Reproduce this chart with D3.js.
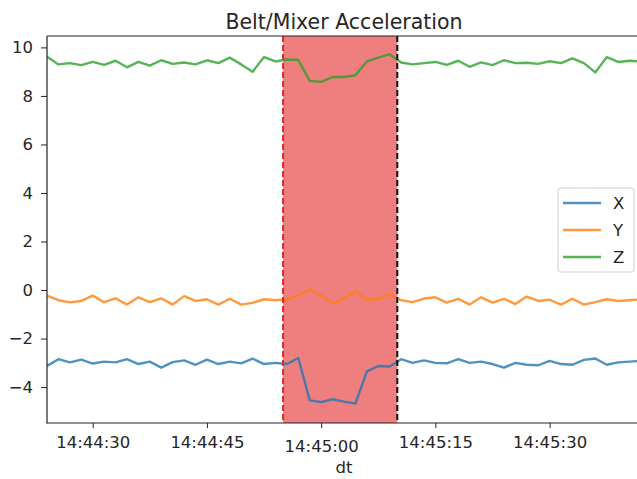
<!DOCTYPE html>
<html>
<head>
<meta charset="utf-8">
<script src="https://cdn.jsdelivr.net/npm/d3@7"></script>
<style>
  body { margin: 0; background: #fff; }
  svg text { font-family: "DejaVu Sans", sans-serif; fill: #262626; }
</style>
</head>
<body>
<div class="canvas"></div>
<script>
// samples every 1.5 s starting 14:44:24
var startTime = new Date(2021, 0, 1, 14, 44, 24);
var stepSeconds = 1.5;

var seriesNames = ["X", "Y", "Z"];
var seriesColors = ["#1f77b4", "#ff7f0e", "#2ca02c"];

var xValues = [-3.13, -2.85, -2.98, -2.87, -3.03, -2.95, -2.98, -2.85, -3.05, -2.95,
  -3.2, -2.97, -2.9, -3.08, -2.87, -3.05, -2.95, -3.02, -2.83, -3.05,
  -3.0, -3.05, -2.8, -4.55, -4.62, -4.5, -4.6, -4.68, -3.35, -3.13,
  -3.15, -2.85, -3.0, -2.9, -3.0, -3.02, -2.85, -3.0, -2.95, -3.05,
  -3.2, -3.0, -3.08, -3.1, -2.92, -3.05, -3.08, -2.88, -2.82, -3.08,
  -2.98, -2.95, -2.92];
var yValues = [-0.23, -0.42, -0.51, -0.45, -0.23, -0.5, -0.34, -0.6, -0.3, -0.5,
  -0.34, -0.6, -0.25, -0.45, -0.38, -0.6, -0.36, -0.6, -0.53, -0.38,
  -0.42, -0.38, -0.23, 0.02, -0.22, -0.55, -0.35, -0.05, -0.4, -0.38,
  -0.18, -0.42, -0.5, -0.35, -0.3, -0.52, -0.36, -0.6, -0.3, -0.52,
  -0.36, -0.58, -0.27, -0.45, -0.4, -0.6, -0.36, -0.6, -0.5, -0.38,
  -0.45, -0.42, -0.38];
var zValues = [9.62, 9.3, 9.35, 9.27, 9.4, 9.28, 9.45, 9.18, 9.4, 9.25,
  9.47, 9.32, 9.38, 9.3, 9.47, 9.35, 9.58, 9.3, 9.0, 9.6,
  9.42, 9.5, 9.48, 8.62, 8.58, 8.78, 8.78, 8.85, 9.42, 9.58,
  9.72, 9.38, 9.3, 9.35, 9.4, 9.28, 9.45, 9.2, 9.38, 9.27,
  9.47, 9.35, 9.37, 9.32, 9.43, 9.35, 9.55, 9.35, 8.97, 9.6,
  9.4, 9.45, 9.42];

var yTicks = [-4, -2, 0, 2, 4, 6, 8, 10];
var xTicks = [
  new Date(2021, 0, 1, 14, 44, 30),
  new Date(2021, 0, 1, 14, 44, 45),
  new Date(2021, 0, 1, 14, 45, 0),
  new Date(2021, 0, 1, 14, 45, 15),
  new Date(2021, 0, 1, 14, 45, 30)
];
var majorTick = xTicks[2];

// highlighted window
var spanStart = new Date(2021, 0, 1, 14, 44, 55);
var spanEnd = new Date(2021, 0, 1, 14, 45, 10);

function DrawChart()
{
    var W = 637, H = 479;
    var mLeft = 47, mTop = 36, mRight = 641, mBottom = 423;

    var svg = d3.select("div.canvas")
        .append("svg")
        .attr("width", W)
        .attr("height", H);

    var x = d3.scaleTime()
        .domain([startTime, new Date(startTime.getTime() + 78000)])
        .range([mLeft, mRight]);
    var y = d3.scaleLinear()
        .domain([-5.48, 10.47])
        .range([mBottom, mTop]);

    svg.append("defs").append("clipPath")
        .attr("id", "plotClip")
        .append("rect")
        .attr("x", mLeft)
        .attr("y", mTop)
        .attr("width", mRight - mLeft)
        .attr("height", mBottom - mTop);

    var allSeries = [xValues, yValues, zValues].map(function(vals, k){
        return {
            name: seriesNames[k],
            color: seriesColors[k],
            points: vals.map(function(v, i){
                return {t: new Date(startTime.getTime() + i*stepSeconds*1000), v: v};
            })
        };
    });

    var plot = svg.append("g").attr("clip-path", "url(#plotClip)");

    // red span
    plot.append("rect")
        .attr("x", x(spanStart))
        .attr("y", mTop)
        .attr("width", x(spanEnd) - x(spanStart))
        .attr("height", mBottom - mTop)
        .attr("fill", "#ef7f7f");

    var line = d3.line()
        .x(function(d){ return x(d.t); })
        .y(function(d){ return y(d.v); });

    plot.selectAll("path.series")
        .data(allSeries)
        .enter()
        .append("path")
        .attr("class", "series")
        .attr("d", function(d){ return line(d.points); })
        .attr("fill", "none")
        .attr("stroke", function(d){ return d.color; })
        .attr("stroke-opacity", 0.8)
        .attr("stroke-width", 2.4)
        .attr("stroke-linejoin", "round");

    // span edges
    plot.append("line")
        .attr("x1", x(spanStart)).attr("x2", x(spanStart))
        .attr("y1", mTop).attr("y2", mBottom)
        .attr("stroke", "#e8221e")
        .attr("stroke-width", 2)
        .attr("stroke-dasharray", "6,3");
    plot.append("line")
        .attr("x1", x(spanEnd)).attr("x2", x(spanEnd))
        .attr("y1", mTop).attr("y2", mBottom)
        .attr("stroke", "#111")
        .attr("stroke-width", 2)
        .attr("stroke-dasharray", "6,3");

    // axes
    var yAxis = svg.append("g")
        .attr("transform", "translate(" + mLeft + ",0)")
        .call(d3.axisLeft(y).tickValues(yTicks).tickSize(6).tickPadding(8).tickFormat(d3.format("d")));
    var xAxis = svg.append("g")
        .attr("transform", "translate(0," + mBottom + ")")
        .call(d3.axisBottom(x).tickValues(xTicks).tickSize(5).tickPadding(8).tickFormat(d3.timeFormat("%H:%M:%S")));

    [xAxis, yAxis].forEach(function(a){
        a.select(".domain").remove();
        a.selectAll("line").attr("stroke", "#222").attr("stroke-width", 1);
        a.selectAll("text")
            .attr("fill", "#262626")
            .style("font-family", "DejaVu Sans")
            .style("font-size", "16.5px");
    });
    // pandas draws the major label a little lower
    xAxis.selectAll(".tick")
        .filter(function(d){ return d.getTime() == majorTick.getTime(); })
        .select("text")
        .attr("y", 17);

    // spines
    svg.append("line").attr("x1", mLeft).attr("x2", mLeft).attr("y1", mTop).attr("y2", mBottom + 0.5)
        .attr("stroke", "#222").attr("stroke-width", 1.2);
    svg.append("line").attr("x1", mLeft).attr("x2", mRight).attr("y1", mBottom).attr("y2", mBottom)
        .attr("stroke", "#222").attr("stroke-width", 1.2);
    svg.append("line").attr("x1", mLeft).attr("x2", mRight).attr("y1", mTop).attr("y2", mTop)
        .attr("stroke", "#222").attr("stroke-width", 1.2);

    // title and label
    svg.append("text")
        .text("Belt/Mixer Acceleration")
        .attr("x", (mLeft + mRight) / 2)
        .attr("y", 29)
        .attr("text-anchor", "middle")
        .style("font-size", "20.5px");
    svg.append("text")
        .text("dt")
        .attr("x", (mLeft + mRight) / 2)
        .attr("y", 473)
        .attr("text-anchor", "middle")
        .style("font-size", "16.5px");

    // legend
    var legend = svg.append("g").attr("transform", "translate(558,188)");
    legend.append("rect")
        .attr("width", 76)
        .attr("height", 84)
        .attr("rx", 3)
        .attr("fill", "#fff")
        .attr("fill-opacity", 0.8)
        .attr("stroke", "#d0d0d0");
    var items = legend.selectAll("g.item")
        .data(allSeries)
        .enter()
        .append("g")
        .attr("class", "item")
        .attr("transform", function(d, i){ return "translate(0," + (15 + i*27) + ")"; });
    items.append("line")
        .attr("x1", 5).attr("x2", 43)
        .attr("stroke", function(d){ return d.color; })
        .attr("stroke-opacity", 0.8)
        .attr("stroke-width", 2.4);
    items.append("text")
        .text(function(d){ return d.name; })
        .attr("x", 55)
        .attr("dy", "0.35em")
        .style("font-size", "16.5px");
}

DrawChart();
</script>
</body>
</html>
